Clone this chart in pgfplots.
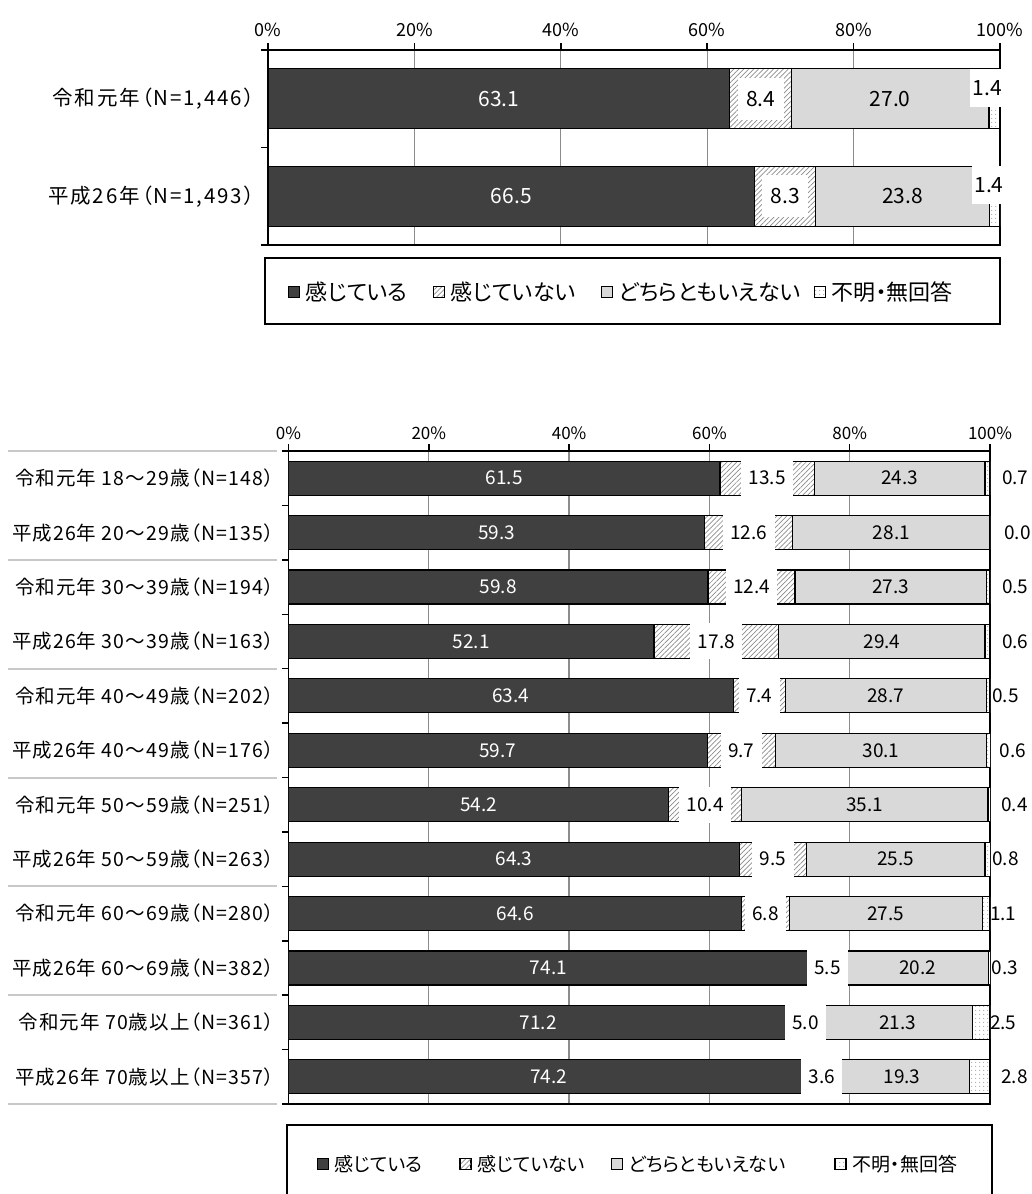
\documentclass[border=0pt]{standalone}
\usepackage{fontspec}
\setmainfont{Noto Sans CJK JP}[RawFeature=+palt]
\newfontfamily\labtop{Noto Sans CJK JP}[RawFeature=+palt, LetterSpace=9]
\newfontfamily\labbot{Noto Sans CJK JP}[RawFeature=+palt, LetterSpace=5.5]
\usepackage{pgfplots}
\usepackage{pgfplotstable}
\pgfplotsset{compat=1.18}
\usetikzlibrary{patterns.meta}

\definecolor{dark}{HTML}{404040}
\definecolor{lgray}{HTML}{D9D9D9}
\definecolor{gridc}{HTML}{8C8C8C}
\definecolor{sepc}{HTML}{C8C8C8}

% r = row, a..d = shares, dx = where the last label sits
\pgfplotstableread{
r a b c d dx
0 63.1 8.4 27.0 1.4 98.3
1 66.5 8.3 23.8 1.4 98.5
}\topdata

\pgfplotstableread{
r a b c d dx
0 61.5 13.5 24.3 0.7 103.6
1 59.3 12.6 28.1 0.0 103.9
2 59.8 12.4 27.3 0.5 103.6
3 52.1 17.8 29.4 0.6 103.6
4 63.4 7.4 28.7 0.5 102.2
5 59.7 9.7 30.1 0.6 103.3
6 54.2 10.4 35.1 0.4 103.5
7 64.3 9.5 25.5 0.8 102.2
8 64.6 6.8 27.5 1.1 101.9
9 74.1 5.5 20.2 0.3 102.1
10 71.2 5.0 21.3 2.5 101.9
11 74.2 3.6 19.3 2.8 103.5
}\botdata

\pgfplotsset{
  sq/.style={legend image code/.code={
      \draw[##1,line width=0.8pt] (0pt,-5.5pt) rectangle (11pt,5.5pt);
      \path (15pt,0pt);}},
  s1/.style={sq, fill=dark, draw=black, line width=1.2pt},
  s2/.style={sq, draw=black, line width=1.2pt, preaction={fill=white},
    pattern color=gridc, pattern={Lines[angle=45,distance=3.5pt,line width=0.7pt]}},
  s3/.style={sq, fill=lgray, draw=black, line width=1.2pt},
  s4/.style={sq, draw=black, line width=1.2pt, preaction={fill=white},
    pattern color=gridc, pattern={Dots[distance=4pt,radius=0.6pt]}},
  barbase/.style={
    scale only axis, xbar stacked,
    xmin=0, xmax=100, y dir=reverse,
    xtick={0,20,...,100}, xticklabels={0\%,20\%,40\%,60\%,80\%,100\%},
    minor xtick={0,20,...,100},
    xtick pos=right, xticklabel pos=right, ytick pos=left,
    major tick length=0pt, minor tick length=7pt, tick align=outside,
    minor tick style={black, line width=1.5pt},
    xmajorgrids, grid style={gridc, line width=1.3pt},
    axis line style={black, line width=1.5pt},
    legend columns=4, legend cell align=left,
  },
  labbase/.style={
    scale only axis, xmin=0, xmax=100, y dir=reverse,
    hide axis, clip=false,
    nodes near coords, point meta=explicit symbolic,
    every node near coord/.append style={anchor=center},
  },
}

\begin{document}
\begin{tikzpicture}
\useasboundingbox (0pt,0pt) rectangle (1031pt,-1194pt);

% ---------- upper chart ----------
\begin{axis}[barbase,
  at={(268pt,-245pt)}, anchor=south west,
  width=732pt, height=195pt, bar width=60pt,
  ymin=-0.5, ymax=1.5,
  ytick={0,1}, yticklabels={{令和元年（N=1,446）},{平成26年（N=1,493）}},
  minor ytick={-0.5,0.5,1.5},
  xticklabel style={font=\fontsize{18}{21}\selectfont, yshift=10pt},
  yticklabel style={font=\labtop\fontsize{20.5}{24}\selectfont, xshift=-10pt},
  legend style={draw=none, fill=none, inner sep=0pt, outer sep=0pt,
    font=\fontsize{22}{26}\selectfont,
    at={(axis description cs:0.027,-0.241)}, anchor=west},
]
\addplot[s1] table[x=a, y=r] {\topdata};
\addplot[s2] table[x=b, y=r] {\topdata};
\addplot[s3] table[x=c, y=r] {\topdata};
\addplot[s4] table[x=d, y=r] {\topdata};
\legend{\makebox[125pt][l]{感じている},\makebox[148pt][l]{感じていない},
  \makebox[193pt][l]{どちらともいえない},不明・無回答}
\end{axis}

\begin{axis}[labbase,
  at={(268pt,-245pt)}, anchor=south west,
  width=732pt, height=195pt, ymin=-0.5, ymax=1.5,
  every node near coord/.append style={font=\fontsize{21}{25}\selectfont},
]
\addplot[draw=none, mark=none, every node near coord/.append style={text=white}]
  table[x expr=\thisrow{a}/2, y=r, meta=a] {\topdata};
\addplot[draw=none, mark=none, every node near coord/.append style={fill=white,
    inner xsep=8.5pt, inner ysep=0pt, minimum height=42pt}]
  table[x expr=\thisrow{a}+\thisrow{b}/2, y=r, meta=b] {\topdata};
\addplot[draw=none, mark=none]
  table[x expr=\thisrow{a}+\thisrow{b}+\thisrow{c}/2, y=r, meta=c] {\topdata};
\addplot[draw=none, mark=none, every node near coord/.append style={fill=white,
    inner sep=0pt, minimum width=35pt, minimum height=38pt, yshift=11pt}]
  table[x=dx, y=r, meta=d] {\topdata};
\end{axis}
\draw[line width=1.3pt] (265pt,-258pt) rectangle (1000pt,-324pt);

% ---------- lower chart ----------
\begin{axis}[barbase,
  at={(288.5pt,-1104pt)}, anchor=south west,
  width=701.5pt, height=653pt, bar width=34pt,
  ymin=-0.5, ymax=11.5,
  ytick={0,...,11},
  yticklabels={{令和元年 18〜29歳（N=148）},{平成26年 20〜29歳（N=135）},
    {令和元年 30〜39歳（N=194）},{平成26年 30〜39歳（N=163）},
    {令和元年 40〜49歳（N=202）},{平成26年 40〜49歳（N=176）},
    {令和元年 50〜59歳（N=251）},{平成26年 50〜59歳（N=263）},
    {令和元年 60〜69歳（N=280）},{平成26年 60〜69歳（N=382）},
    {令和元年 70歳以上（N=361）},{平成26年 70歳以上（N=357）}},
  minor ytick={-0.5,0.5,...,11.5},
  xticklabel style={font=\fontsize{17}{20}\selectfont, yshift=8pt},
  yticklabel style={font=\labbot\fontsize{19.5}{23}\selectfont, xshift=-11pt},
  legend style={draw=none, fill=none, inner sep=0pt, outer sep=0pt,
    font=\fontsize{19}{23}\selectfont,
    at={(axis description cs:0.040,-0.092)}, anchor=west},
]
\addplot[s1] table[x=a, y=r] {\botdata};
\addplot[s2] table[x=b, y=r] {\botdata};
\addplot[s3] table[x=c, y=r] {\botdata};
\addplot[s4] table[x=d, y=r] {\botdata};
\legend{\makebox[123pt][l]{感じている},\makebox[131pt][l]{感じていない},
  \makebox[204pt][l]{どちらともいえない},不明・無回答}
\end{axis}

\begin{axis}[labbase,
  at={(288.5pt,-1104pt)}, anchor=south west,
  width=701.5pt, height=653pt, ymin=-0.5, ymax=11.5,
  every node near coord/.append style={font=\fontsize{19}{22}\selectfont},
]
\addplot[draw=none, mark=none, every node near coord/.append style={text=white}]
  table[x expr=\thisrow{a}/2, y=r, meta=a] {\botdata};
\addplot[draw=none, mark=none, every node near coord/.append style={fill=white,
    inner xsep=7.5pt, inner ysep=0pt, minimum height=36pt}]
  table[x expr=\thisrow{a}+\thisrow{b}/2, y=r, meta=b] {\botdata};
\addplot[draw=none, mark=none]
  table[x expr=\thisrow{a}+\thisrow{b}+\thisrow{c}/2, y=r, meta=c] {\botdata};
\addplot[draw=none, mark=none]
  table[x=dx, y=r, meta=d] {\botdata};
\pgfplotsinvokeforeach{-0.5,1.5,3.5,5.5,7.5,9.5,11.5}{
  \draw[sepc, line width=2pt] ([xshift=-280.5pt]axis cs:0,#1) -- ([xshift=-11.5pt]axis cs:0,#1);
}
\end{axis}
\draw[line width=1.3pt] (287pt,-1125pt) rectangle (992pt,-1210pt);
\end{tikzpicture}
\end{document}
